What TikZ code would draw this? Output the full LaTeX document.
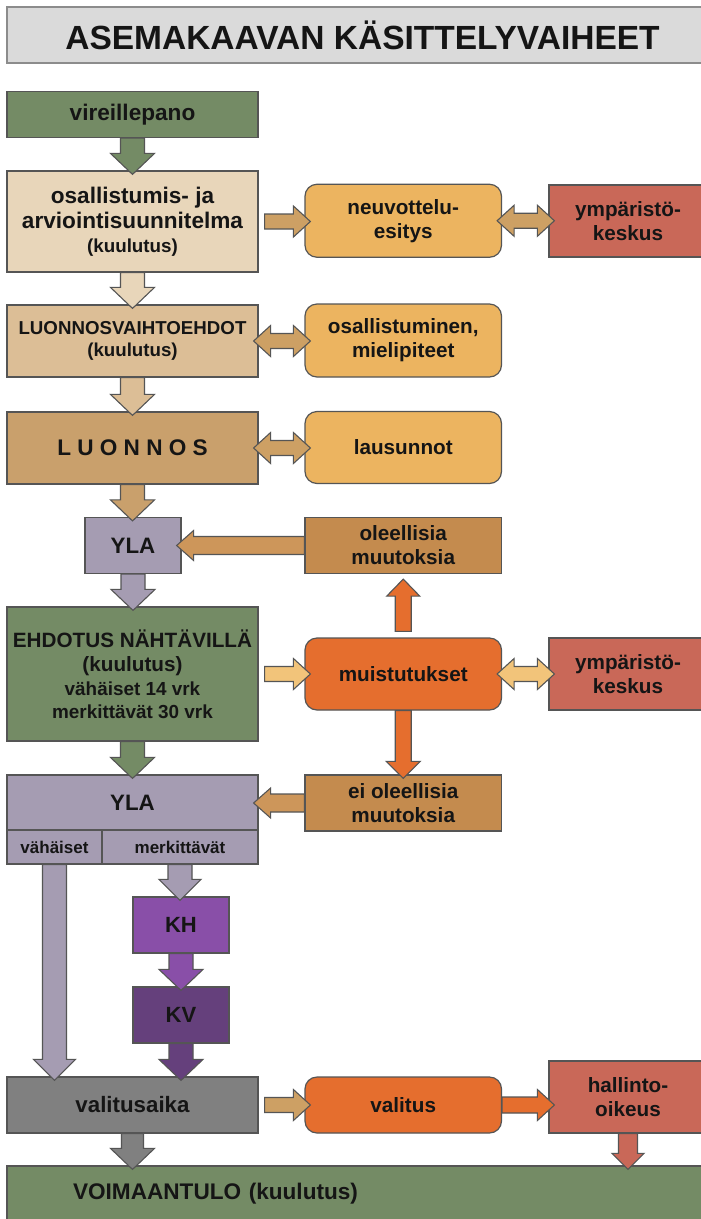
\documentclass[tikz,border=0pt]{standalone}
\usepackage{fontspec}
\setmainfont{Liberation Sans}
\usetikzlibrary{calc}

\definecolor{titlegray}{HTML}{DADADA}
\definecolor{edgegray}{HTML}{555555}
\definecolor{textblack}{HTML}{151515}
\definecolor{vgreen}{HTML}{748B65}
\definecolor{beige}{HTML}{E8D6BA}
\definecolor{tanlight}{HTML}{DCBE96}
\definecolor{tanmid}{HTML}{C9A06C}
\definecolor{tanarrow}{HTML}{CDA064}
\definecolor{paleorange}{HTML}{ECB460}
\definecolor{brickred}{HTML}{C96858}
\definecolor{lavender}{HTML}{A59CB2}
\definecolor{brownbox}{HTML}{C48B4E}
\definecolor{brownarrow}{HTML}{CD965A}
\definecolor{orange}{HTML}{E56E2E}
\definecolor{lighttan}{HTML}{F2C47A}
\definecolor{khpurple}{HTML}{894FA8}
\definecolor{kvpurple}{HTML}{65407C}
\definecolor{midgray}{HTML}{808080}

\tikzset{
  box/.style={draw=edgegray, line width=1.2pt, inner sep=0pt, align=center,
    text=textblack, font=\bfseries\fontsize{20.7}{24}\selectfont},
  roundbox/.style={box, rounded corners=12pt},
  blockarrow/.style={draw=edgegray, line width=1.1pt, line join=miter},
}

% block arrows between node anchors
\newcommand{\arrdown}[6][21pt]{%
  \filldraw[blockarrow, fill=#4] let \p1=(#2), \p2=(#3) in
    (\x1-#5,\y1) -- (\x1-#5,\y2-4pt+#1) -- (\x1-#6,\y2-4pt+#1) -- (\x1,\y2-4pt)
    -- (\x1+#6,\y2-4pt+#1) -- (\x1+#5,\y2-4pt+#1) -- (\x1+#5,\y1) -- cycle;}
\newcommand{\arrup}[6][17pt]{%
  \filldraw[blockarrow, fill=#4] let \p1=(#2), \p2=(#3) in
    (\x1-#5,\y1+6pt) -- (\x1-#5,\y2-5pt-#1) -- (\x1-#6,\y2-5pt-#1) -- (\x1,\y2-5pt)
    -- (\x1+#6,\y2-5pt-#1) -- (\x1+#5,\y2-5pt-#1) -- (\x1+#5,\y1+6pt) -- cycle;}
\newcommand{\arrright}[6][6pt]{%
  \filldraw[blockarrow, fill=#4] let \p1=(#2), \p2=(#3) in
    (\x1+#1,\y1-#5) -- (\x2-11pt,\y1-#5) -- (\x2-11pt,\y1-#6) -- (\x2+6pt,\y1)
    -- (\x2-11pt,\y1+#6) -- (\x2-11pt,\y1+#5) -- (\x1+#1,\y1+#5) -- cycle;}
\newcommand{\arrleft}[5]{%
  \filldraw[blockarrow, fill=#3] let \p1=(#1), \p2=(#2) in
    (\x1,\y1-#4) -- (\x2+12pt,\y1-#4) -- (\x2+12pt,\y1-#5) -- (\x2-5pt,\y1)
    -- (\x2+12pt,\y1+#5) -- (\x2+12pt,\y1+#4) -- (\x1,\y1+#4) -- cycle;}
\newcommand{\arrboth}[5]{%
  \filldraw[blockarrow, fill=#3] let \p1=(#1), \p2=(#2) in
    (\x1-5pt,\y1) -- (\x1+12pt,\y1+#5) -- (\x1+12pt,\y1+#4) -- (\x2-11pt,\y1+#4)
    -- (\x2-11pt,\y1+#5) -- (\x2+6pt,\y1) -- (\x2-11pt,\y1-#5) -- (\x2-11pt,\y1-#4)
    -- (\x1+12pt,\y1-#4) -- (\x1+12pt,\y1-#5) -- cycle;}

\begin{document}
\begin{tikzpicture}[x=1pt, y=-1pt]
  \clip (0,0) rectangle (701,1219);
  \fill[white] (0,0) rectangle (701,1219);

  % title
  \node[box, draw=black!45, fill=titlegray, minimum width=711pt, minimum height=56pt,
    font=\bfseries\fontsize{33.5}{40}\selectfont] (title) at (362.5,35) {ASEMAKAAVAN KÄSITTELYVAIHEET};

  % left column
  \node[box, fill=vgreen, minimum width=251pt, minimum height=46pt,
    font=\bfseries\fontsize{22.6}{26}\selectfont] (vire) at (132.5,114.5) {vireillepano};
  \node[box, fill=beige, minimum width=251pt, minimum height=101pt,
    font=\bfseries\fontsize{22.6}{25}\selectfont] (osal) at (132.5,221.5)
    {osallistumis- ja\\arviointisuunnitelma\\[-1pt]{\fontsize{18.8}{22}\selectfont(kuulutus)}};
  \node[box, fill=tanlight, minimum width=251pt, minimum height=72pt,
    font=\bfseries\fontsize{18.7}{21.7}\selectfont] (luvaiht) at (132.5,341) {LUONNOSVAIHTOEHDOT\\(kuulutus)};
  \node[box, fill=tanmid, minimum width=251pt, minimum height=72pt,
    font=\bfseries\fontsize{22.6}{26}\selectfont] (luonnos) at (132.5,448) {{\spaceskip=6.25pt L U O N N O S}};
  \node[box, fill=lavender, minimum width=96pt, minimum height=56pt,
    font=\bfseries\fontsize{22.3}{26}\selectfont] (ylaa) at (133,545.5) {YLA};
  \node[box, fill=vgreen, minimum width=251pt, minimum height=134pt] (ehdotus) at (132.5,674)
    {EHDOTUS NÄHTÄVILLÄ\\(kuulutus)\\{\fontsize{18.9}{22}\selectfont vähäiset 14 vrk}\\[-1pt]
     {\fontsize{18.9}{22}\selectfont merkittävät 30 vrk}};
  \node[box, fill=lavender, minimum width=251pt, minimum height=55pt,
    font=\bfseries\fontsize{22.3}{26}\selectfont] (ylab) at (132.5,802.5) {YLA};
  \node[box, fill=lavender, minimum width=95pt, minimum height=34pt,
    font=\bfseries\fontsize{17}{20}\selectfont] (vahai) at (54.5,847) {vähäiset};
  \node[box, fill=lavender, minimum width=156pt, minimum height=34pt,
    font=\bfseries\fontsize{17}{20}\selectfont] (merkit) at (180,847) {merkittävät};
  \node[box, fill=khpurple, minimum width=96pt, minimum height=56pt,
    font=\bfseries\fontsize{22}{26}\selectfont] (kh) at (181,925) {KH};
  \node[box, fill=kvpurple, minimum width=96pt, minimum height=56pt,
    font=\bfseries\fontsize{22}{26}\selectfont] (kv) at (181,1015) {KV};
  \node[box, fill=midgray, minimum width=251pt, minimum height=56pt,
    font=\bfseries\fontsize{22.3}{26}\selectfont] (valaika) at (132.5,1105) {valitusaika};

  % middle column
  \node[roundbox, fill=paleorange, minimum width=196.5pt, minimum height=73pt] (neuv) at (403.25,220.75) {neuvottelu-\\esitys};
  \node[roundbox, fill=paleorange, minimum width=196.5pt, minimum height=73pt] (osmiel) at (403.25,340.5) {osallistuminen,\\mielipiteet};
  \node[roundbox, fill=paleorange, minimum width=196.5pt, minimum height=72pt] (lausu) at (403.25,447.5) {lausunnot};
  \node[box, fill=brownbox, minimum width=196.5pt, minimum height=56pt] (oleel) at (403.25,545.5) {oleellisia\\muutoksia};
  \node[roundbox, fill=orange, minimum width=196.5pt, minimum height=72pt] (muist) at (403.25,674) {muistutukset};
  \node[box, fill=brownbox, minimum width=196.5pt, minimum height=56pt] (eioleel) at (403.25,803) {ei oleellisia\\muutoksia};
  \node[roundbox, fill=orange, minimum width=196.5pt, minimum height=56pt] (valitus) at (403.25,1105) {valitus};

  % right column
  \node[box, fill=brickred, minimum width=158pt, minimum height=72pt] (ympa) at (628,221) {ympäristö-\\keskus};
  \node[box, fill=brickred, minimum width=158pt, minimum height=72pt] (ympb) at (628,674) {ympäristö-\\keskus};
  \node[box, fill=brickred, minimum width=158pt, minimum height=72pt] (hallinto) at (628,1097) {hallinto-\\oikeus};

  % bottom bar
  \node[box, fill=vgreen, minimum height=56pt, text width=579pt, inner xsep=66pt, align=left,
    font=\bfseries\fontsize{22.6}{26}\selectfont] (voima) at (362.5,1194) {VOIMAANTULO (kuulutus)};

  % vertical arrows
  \arrdown{vire.south}{osal.north}{vgreen}{12pt}{22pt}
  \arrdown{osal.south}{luvaiht.north}{beige}{12pt}{22pt}
  \arrdown{luvaiht.south}{luonnos.north}{tanlight}{12pt}{22pt}
  \arrdown{luonnos.south}{ylaa.north}{tanmid}{12pt}{22pt}
  \arrdown{ylaa.south}{ehdotus.north}{lavender}{12pt}{22pt}
  \arrdown{ehdotus.south}{ylab.north}{vgreen}{12pt}{22pt}
  \arrdown{vahai.south}{valaika.north}{lavender}{12pt}{21pt}
  \arrdown{merkit.south}{kh.north}{lavender}{12pt}{21pt}
  \arrdown{kh.south}{kv.north}{khpurple}{12pt}{22pt}
  \arrdown{kv.south}{valaika.north}{kvpurple}{12pt}{22pt}
  \arrdown{valaika.south}{voima.north}{midgray}{11pt}{22pt}
  \arrdown[16pt]{hallinto.south}{voima.north}{brickred}{9.5pt}{16pt}
  \arrdown[17pt]{muist.south}{eioleel.north}{orange}{8pt}{17pt}
  \arrup{muist.north}{oleel.south}{orange}{8pt}{16.5pt}

  % horizontal arrows
  \arrright{osal.east}{neuv.west}{tanarrow}{7.5pt}{15.5pt}
  \arrright{ehdotus.east}{muist.west}{lighttan}{7.5pt}{15.5pt}
  \arrright{valaika.east}{valitus.west}{tanarrow}{7.5pt}{15.5pt}
  \arrright[0pt]{valitus.east}{hallinto.west}{orange}{8pt}{15.5pt}
  \arrboth{neuv.east}{ympa.west}{tanarrow}{7.5pt}{15.5pt}
  \arrboth{luvaiht.east}{osmiel.west}{tanarrow}{7.5pt}{15.5pt}
  \arrboth{luonnos.east}{lausu.west}{tanarrow}{7.5pt}{15.5pt}
  \arrboth{muist.east}{ympb.west}{lighttan}{7.5pt}{15.5pt}
  \arrleft{oleel.west}{ylaa.east}{brownarrow}{9pt}{15pt}
  \arrleft{eioleel.west}{ylab.east}{brownarrow}{9pt}{15pt}
\end{tikzpicture}
\end{document}
